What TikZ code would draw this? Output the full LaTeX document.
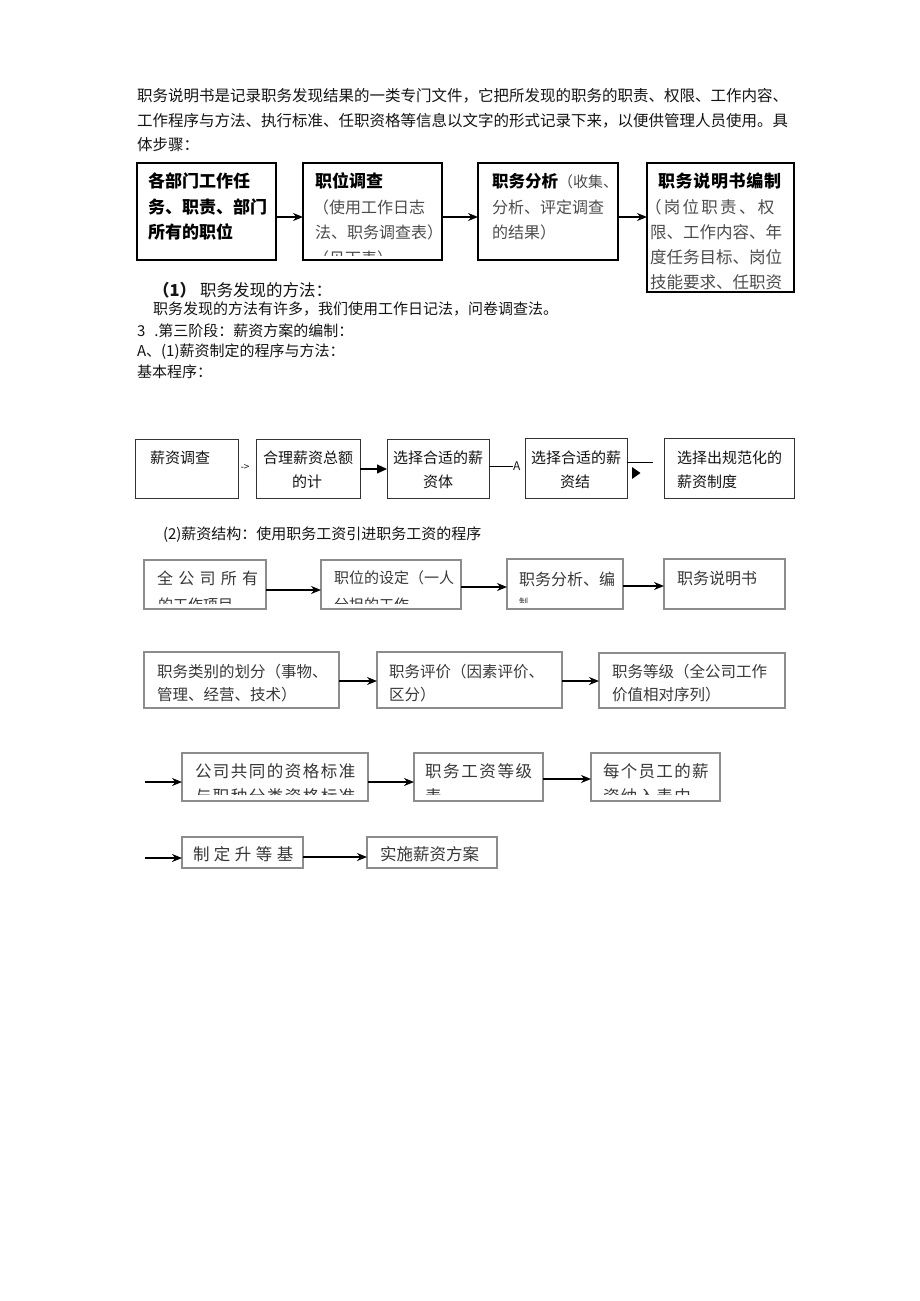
\documentclass[tikz,border=0pt]{standalone}
\usepackage{fontspec}
\setmainfont{Noto Sans CJK SC}
\usetikzlibrary{arrows.meta}
\definecolor{boxgray}{gray}{0.55}
\definecolor{txtgray}{gray}{0.22}
\definecolor{softgray}{gray}{0.3}
\newcommand\bx[6][]{\node[#1,minimum width={#4pt-#2pt},minimum height={#5pt-#3pt}] (#6) at ({(#2+#4)/2},{(#3+#5)/2}) {};}
\newcommand\tx[5][]{\node[txt,#1] (#2) at (#3,#4) {#5};}
\begin{document}
\begin{tikzpicture}[x=1pt,y=-1pt,
  txt/.style={anchor=west,inner sep=0pt,outer sep=0pt,font=\fontsize{15.5}{18}\selectfont,text=black!92},
  f15/.style={font=\fontsize{15}{18}\selectfont},
  f16/.style={font=\fontsize{16}{18}\selectfont},
  f165/.style={font=\fontsize{16.5}{18}\selectfont},
  f17b/.style={font=\fontsize{17}{18}\selectfont\bfseries,text=black},
  soft/.style={text=softgray},
  dark/.style={text=txtgray},
  thickbox/.style={draw=black,line width=2pt,inner sep=0pt,outer sep=0pt},
  thinbox/.style={draw=black!80,line width=1pt,inner sep=0pt,outer sep=0pt},
  graybox/.style={draw=boxgray,line width=1.5pt,inner sep=0pt,outer sep=0pt},
  arr/.style={draw=black,line width=1.6pt,-{Stealth[length=10pt,width=8pt]}},
  tri/.style={draw=black,line width=1.1pt,-{Triangle[length=10pt,width=9pt]}}
]
\useasboundingbox (0,0) rectangle (920,1301);
\fill[white] (0,0) rectangle (920,1301);

% --- paragraph
\tx{p1}{137}{96}{职务说明书是记录职务发现结果的一类专门文件，它把所发现的职务的职责、权限、工作内容、}
\tx{p2}{137}{121}{工作程序与方法、执行标准、任职资格等信息以文字的形式记录下来，以便供管理人员使用。具}
\tx{p3}{137}{145}{体步骤：}

% --- flow 1
\bx[thickbox]{137}{163}{276}{260}{B1}
\bx[thickbox]{303}{163}{442}{260}{B2}
\bx[thickbox]{478}{163}{618}{260}{B3}
\bx[thickbox]{647}{163}{794}{292}{B4}
\tx[f17b]{b1a}{148}{181}{各部门工作任}
\tx[f17b]{b1b}{148}{207}{务、职责、部门}
\tx[f17b]{b1c}{148}{232}{所有的职位}
\tx[f17b]{b2a}{315}{181}{职位调查}
\tx[f16,soft]{b2b}{313}{207}{（使用工作日志}
\tx[f16,soft]{b2c}{315}{232}{法、职务调查表）}
\begin{scope}
\clip (303,163) rectangle (442,255);
\tx[f16,soft]{b2d}{313}{258}{（见下表）}
\end{scope}
\tx[font=\fontsize{15}{18}\selectfont,soft]{b3a}{492}{181}{{\fontsize{16.5}{18}\selectfont\bfseries\color{black}职务分析}（收集、}
\tx[f16,soft]{b3b}{492}{207}{分析、评定调查}
\tx[f16,soft]{b3c}{492}{232}{的结果）}
\tx[f17b]{b4a}{658}{181}{\addfontfeature{LetterSpace=4}职务说明书编制}
\tx[f165,soft]{b4b}{645}{207}{\addfontfeature{LetterSpace=14}（岗位职责、权}
\tx[f165,soft]{b4c}{650}{232}{限、工作内容、年}
\tx[f165,soft]{b4d}{650}{257}{度任务目标、岗位}
\tx[f165,soft]{b4e}{650}{282}{技能要求、任职资}
\draw[arr,line width=1.5pt] (B1.east |- 0,217) -- (B2.west |- 0,217);
\draw[arr,line width=1.5pt] (B2.east |- 0,217) -- (B3.west |- 0,217);
\draw[arr,line width=1.5pt] (B3.east |- 0,217) -- (B4.west |- 0,217);

% --- text lines
\tx[f165]{s1}{153}{290}{{\bfseries （1）}\hspace{4pt}职务发现的方法：}
\tx[f15]{s2}{153}{309}{职务发现的方法有许多，我们使用工作日记法，问卷调查法。}
\tx[f15]{s3}{137}{331}{3\hspace{9pt}.第三阶段：薪资方案的编制：}
\tx[f15]{s4}{137}{352}{A、(1)薪资制定的程序与方法：}
\tx[f15]{s5}{137}{372}{基本程序：}

% --- flow 2
\bx[thinbox]{135}{439}{238}{498}{Ca}
\bx[thinbox]{256}{439}{360}{498}{Cb}
\bx[thinbox]{387}{439}{489}{498}{Cc}
\bx[thinbox]{525}{438}{627}{498}{Cd}
\bx[thinbox]{664}{438}{794}{498}{Ce}
\tx[f15]{ca}{150}{458}{薪资调查}
\tx[f15]{cb1}{263}{458}{合理薪资总额}
\tx[f15]{cb2}{292}{482}{的计}
\tx[f15]{cc1}{393}{458}{选择合适的薪}
\tx[f15]{cc2}{423}{482}{资体}
\tx[f15]{cd1}{531}{458}{选择合适的薪}
\tx[f15]{cd2}{560}{482}{资结}
\tx[f15]{ce1}{677}{458}{选择出规范化的}
\tx[f15]{ce2}{677}{482}{薪资制度}
\tx[font=\fontsize{10}{12}\selectfont]{g1}{240.5}{468}{->}
\draw[tri] (Cb.east |- 0,469) -- (Cc.west |- 0,469);
\tx[font=\fontsize{12}{14}\selectfont]{g2}{513}{466}{A}
\coordinate (gA) at (g2.west);
\draw[line width=1pt] (Cc.east |- gA) -- (gA);
\coordinate (gE) at (653,462);
\draw[line width=1pt] (Cd.east |- gE) -- (gE);
\fill (632,467) -- (640.5,473) -- (632,479) -- cycle;

% --- section (2)
\tx[f15]{h2}{163}{535}{(2)薪资结构：使用职务工资引进职务工资的程序}

% row 1
\bx[graybox]{144}{560}{266}{609}{R1a}
\bx[graybox]{321}{560}{461}{609}{R1b}
\bx[graybox]{507}{559}{623}{609}{R1c}
\bx[graybox]{664}{559}{785}{609}{R1d}
\tx[f16,dark]{r1a1}{157}{578}{\addfontfeature{LetterSpace=33}全公司所有}
\tx[f15,dark]{r1b1}{334}{578}{职位的设定（一人}
\tx[f16,dark]{r1c1}{519}{579}{职务分析、编}
\tx[f16,dark]{r1d1}{677}{578}{职务说明书}
\begin{scope}
\clip (144,560) rectangle (266,603);
\tx[f15,dark]{r1a2}{158}{605}{的工作项目}
\end{scope}
\begin{scope}
\clip (321,560) rectangle (461,603);
\tx[f15,dark]{r1b2}{334}{605}{分担的工作}
\end{scope}
\begin{scope}
\clip (507,559) rectangle (623,602.5);
\tx[font=\fontsize{9}{10}\selectfont,dark]{r1c2}{519}{602}{制}
\end{scope}
\draw[arr] (R1a.east |- 0,590) -- (R1b.west |- 0,590);
\draw[arr] (R1b.east |- 0,587) -- (R1c.west |- 0,587);
\draw[arr] (R1c.east |- 0,586) -- (R1d.west |- 0,586);

% row 2
\bx[graybox]{144}{652}{339}{708}{R2a}
\bx[graybox]{377}{652}{562}{708}{R2b}
\bx[graybox]{599}{653}{785}{708}{R2c}
\tx[dark]{r2a1}{157}{672}{职务类别的划分（事物、}
\tx[dark]{r2a2}{157}{695}{管理、经营、技术）}
\tx[dark]{r2b1}{389}{672}{职务评价（因素评价、}
\tx[dark]{r2b2}{389}{695}{区分）}
\tx[dark]{r2c1}{612}{672}{职务等级（全公司工作}
\tx[dark]{r2c2}{612}{695}{价值相对序列）}
\draw[arr] (R2a.east |- 0,681) -- (R2b.west |- 0,681);
\draw[arr] (R2b.east |- 0,681) -- (R2c.west |- 0,681);

% row 3
\coordinate (S3) at (145,782);
\bx[graybox]{182}{753}{368}{801}{R3a}
\bx[graybox]{414}{753}{543}{801}{R3b}
\bx[graybox]{591}{753}{720}{801}{R3c}
\tx[f165,dark]{r3a1}{195}{771}{\addfontfeature{LetterSpace=9}公司共同的资格标准}
\tx[f165,dark]{r3b1}{425}{771}{\addfontfeature{LetterSpace=10}职务工资等级}
\tx[f165,dark]{r3c1}{603}{771}{\addfontfeature{LetterSpace=8}每个员工的薪}
\begin{scope}
\clip (182,753) rectangle (368,794);
\tx[f165,dark]{r3a2}{195}{796}{\addfontfeature{LetterSpace=9}与职种分类资格标准}
\end{scope}
\begin{scope}
\clip (414,753) rectangle (543,794);
\tx[f165,dark]{r3b2}{425}{796}{表}
\end{scope}
\begin{scope}
\clip (591,753) rectangle (720,794);
\tx[f165,dark]{r3c2}{603}{796}{\addfontfeature{LetterSpace=8}资纳入表中}
\end{scope}
\draw[arr] (S3) -- (R3a.west |- S3);
\draw[arr] (R3a.east |- 0,782) -- (R3b.west |- 0,782);
\draw[arr] (R3b.east |- 0,779) -- (R3c.west |- 0,779);

% row 4
\coordinate (S4) at (145,858);
\bx[graybox]{182}{837}{303}{868}{R4a}
\bx[graybox]{367}{837}{497}{868}{R4b}
\tx[f165,dark]{r4a1}{193}{854}{\addfontfeature{LetterSpace=27}制定升等基}
\tx[f165,dark]{r4b1}{380}{854}{实施薪资方案}
\draw[arr] (S4) -- (R4a.west |- S4);
\draw[arr] (R4a.east |- 0,857) -- (R4b.west |- 0,857);
\end{tikzpicture}
\end{document}
